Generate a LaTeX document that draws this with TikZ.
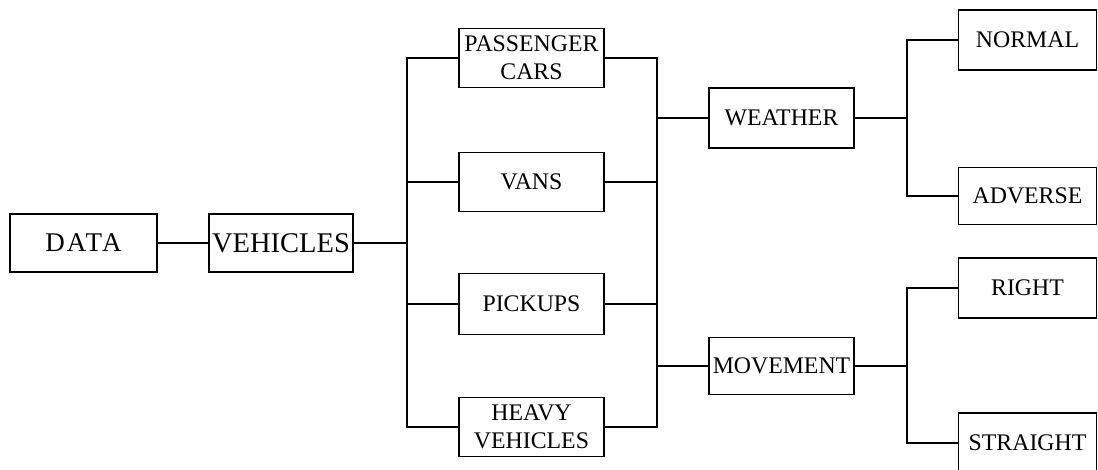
\documentclass[tikz,border=0pt]{standalone}
\usepackage{fontspec}
\setmainfont{Liberation Serif}
\begin{document}
\begin{tikzpicture}[x=1pt,y=-1pt,
  box/.style={draw, line width=1.3pt, inner sep=0pt, align=center,
    font=\fontsize{23.8}{28}\selectfont, minimum width=145pt, minimum height=59pt},
  bigbox/.style={box, font=\fontsize{28.5}{32}\selectfont, minimum height=58pt},
  link/.style={line width=1.3pt}]
\useasboundingbox (0,0) rectangle (1098,470);
\clip (0,0) rectangle (1098,470);
% level 0-1
\node[bigbox, minimum width=147pt, font=\fontsize{27}{32}\selectfont\addfontfeature{LetterSpace=8}] (data) at (83.5,243) {DATA};
\node[bigbox, minimum width=144pt] (veh) at (281,243) {VEHICLES};
% level 2
\node[box] (pc) at (531.5,58) {PASSENGER\\CARS};
\node[box] (vans) at (531.5,182) {VANS};
\node[box, minimum height=61pt] (pk) at (531.5,304) {PICKUPS};
\node[box] (hv) at (531.5,427) {HEAVY\\VEHICLES};
% level 3
\node[box, minimum height=60pt] (wea) at (781.5,118) {WEATHER};
\node[box, minimum height=57pt] (mov) at (781.5,366) {MOVEMENT};
% level 4
\node[box, minimum width=138pt, minimum height=60pt] (nor) at (1027.5,40) {NORMAL};
\node[box, minimum width=138pt, minimum height=57pt] (adv) at (1027.5,196) {ADVERSE};
\node[box, minimum width=138pt, minimum height=60pt] (rig) at (1027.5,288) {RIGHT};
\node[box, minimum width=138pt, minimum height=60pt] (str) at (1027.5,443) {STRAIGHT};
% trunks
\coordinate (t1) at (407,243);
\coordinate (t2) at (657,243);
\coordinate (t3) at (907,118);
\coordinate (t4) at (907,366);
\draw[link] (data.east) -- (veh.west);
\draw[link] (veh.east) -- (t1);
\draw[link] (pc.west) -| (t1) |- (hv.west);
\draw[link] (vans.west) -- (vans.west -| t1);
\draw[link] (pk.west) -- (pk.west -| t1);
\draw[link] (pc.east) -| (t2) |- (hv.east);
\draw[link] (vans.east) -- (vans.east -| t2);
\draw[link] (pk.east) -- (pk.east -| t2);
\draw[link] (wea.west -| t2) -- (wea.west);
\draw[link] (mov.west -| t2) -- (mov.west);
\draw[link] (wea.east) -- (t3);
\draw[link] (nor.west) -| (t3) |- (adv.west);
\draw[link] (mov.east) -- (t4);
\draw[link] (rig.west) -| (t4) |- (str.west);
\end{tikzpicture}
\end{document}
